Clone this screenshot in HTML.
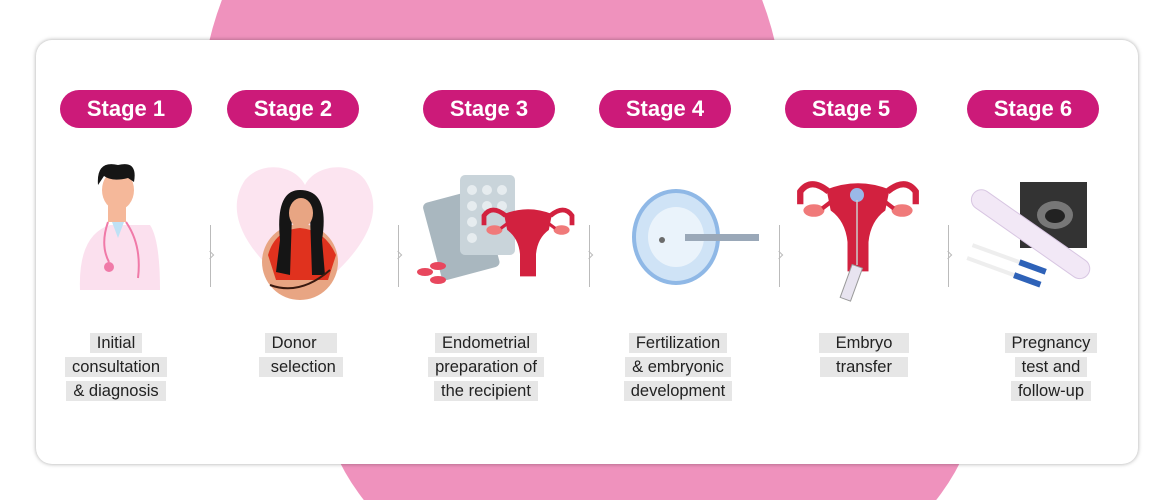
<!DOCTYPE html>
<html style="width:1170px;height:500px;overflow:hidden"><head><meta charset="utf-8"><style>
*{margin:0;padding:0;box-sizing:border-box}
body{width:1170px;height:500px;background:#fff;position:relative;overflow:hidden;font-family:"Liberation Sans",sans-serif}
.card{position:absolute;left:36px;top:40px;width:1102px;height:424px;background:#fff;border-radius:16px;box-shadow:0 0 4px rgba(0,0,0,.35)}
.pill{position:absolute;top:90px;width:132px;height:38px;border-radius:19px;background:#cc1a79;color:#fff;font-weight:bold;font-size:22px;line-height:38px;text-align:center}
.lab{position:absolute;top:331px;width:180px;text-align:center;font-size:16.5px;color:#222;line-height:24px}
.lab span{background:#e6e6e6;padding:1px 7px}
.sep{position:absolute;top:225px;width:1px;height:62px;background:#bbb}
.sep:after{content:"";position:absolute;left:-3px;top:27px;width:5px;height:5px;border-right:1px solid #bbb;border-top:1px solid #bbb;transform:rotate(45deg)}
svg{position:absolute}
</style></head><body>
<svg width="1170" height="500" style="left:0;top:0">
<ellipse cx="492" cy="120" rx="292" ry="316" fill="#ef92bd"/>
<ellipse cx="650" cy="380" rx="330" ry="241" fill="#ef92bd"/>
</svg>
<div class="card"></div>
<div class="pill" style="left:60px">Stage 1</div>
<div class="pill" style="left:227px">Stage 2</div>
<div class="pill" style="left:423px">Stage 3</div>
<div class="pill" style="left:599px">Stage 4</div>
<div class="pill" style="left:785px">Stage 5</div>
<div class="pill" style="left:967px">Stage 6</div>

<div class="sep" style="left:210px"></div>
<div class="sep" style="left:398px"></div>
<div class="sep" style="left:589px"></div>
<div class="sep" style="left:779px"></div>
<div class="sep" style="left:948px"></div>

<svg width="1170" height="320" style="left:0;top:0">
<defs>
<g id="ut">
<path d="M-30,-10 Q0,-22 30,-10 L26,10 Q12,20 10,40 L10,68 L-10,68 L-10,40 Q-12,20 -26,10 Z" fill="#d2213f"/>
<path d="M-28,-8 Q-45,-22 -55,-8 L-55,4 M28,-8 Q45,-22 55,-8 L55,4" stroke="#d2213f" stroke-width="6" fill="none"/>
<ellipse cx="-42" cy="10" rx="10" ry="6" fill="#f07a7a"/><ellipse cx="42" cy="10" rx="10" ry="6" fill="#f07a7a"/>
<path d="M-26,2 L-34,8 M26,2 L34,8" stroke="#d2213f" stroke-width="4"/>
</g>
</defs>
<path d="M80,290 Q78,235 110,225 L150,225 Q160,240 160,290 Z" fill="#fbe0ee"/>
<rect x="108" y="200" width="18" height="22" fill="#f5b89a"/>
<ellipse cx="118" cy="190" rx="16" ry="20" fill="#f5b89a"/>
<path d="M98,185 Q96,160 118,165 Q138,160 134,182 L128,178 Q112,182 104,176 Z" fill="#151515"/>
<path d="M112,222 L118,238 L124,222" fill="#bfe1f5"/>
<circle cx="109" cy="267" r="5" fill="#f07aa8"/>
<path d="M108,222 Q100,245 109,262 M126,222 Q142,245 138,278" stroke="#f07aa8" stroke-width="2" fill="none"/>
<path d="M305,298 C240,250 225,210 245,180 C262,160 295,165 305,185 C315,165 350,160 365,180 C385,210 370,250 305,298 Z" fill="#fce4f0"/>
<circle cx="300" cy="262" r="38" fill="#e8a583"/>
<path d="M268,255 Q275,230 300,228 Q325,230 336,255 L328,280 L276,280 Z" fill="#e0321e"/>
<path d="M280,240 Q275,190 300,190 Q330,190 322,240 L325,275 L312,275 L310,215 L292,215 L290,275 L276,272 Z" fill="#151515"/>
<ellipse cx="301" cy="213" rx="12" ry="15" fill="#e8a583"/>
<path d="M270,285 Q300,296 330,270" stroke="#3a1a10" stroke-width="2" fill="none"/>
<g transform="rotate(-15 460 230)"><rect x="430" y="195" width="60" height="80" rx="5" fill="#a9b7bf"/></g>
<rect x="460" y="175" width="55" height="80" rx="5" fill="#c9d4da"/>
<g fill="#e6ecef"><circle cx="472" cy="190" r="5"/><circle cx="487" cy="190" r="5"/><circle cx="502" cy="190" r="5"/><circle cx="472" cy="206" r="5"/><circle cx="487" cy="206" r="5"/><circle cx="502" cy="206" r="5"/><circle cx="472" cy="222" r="5"/><circle cx="472" cy="238" r="5"/></g>
<ellipse cx="425" cy="272" rx="8" ry="4" fill="#e8475e"/><ellipse cx="438" cy="266" rx="8" ry="4" fill="#e8475e"/><ellipse cx="438" cy="280" rx="8" ry="4" fill="#e8475e"/>
<use href="#ut" transform="translate(528,222) scale(0.8)"/>
<ellipse cx="676" cy="237" rx="42" ry="46" fill="#cfe3f6" stroke="#8fb8e6" stroke-width="4"/>
<ellipse cx="676" cy="237" rx="28" ry="30" fill="#eaf3fb"/>
<rect x="685" y="234" width="74" height="7" fill="#9aa8b8"/>
<circle cx="662" cy="240" r="3" fill="#6b6b6b"/>
<use href="#ut" transform="translate(858,200) scale(1.05)"/>
<circle cx="857" cy="195" r="7" fill="#9ab8e8"/>
<line x1="857" y1="200" x2="857" y2="265" stroke="#ccc" stroke-width="1.5"/>
<g transform="rotate(20 850 285)"><rect x="845" y="265" width="11" height="35" fill="#e8e4f0" stroke="#999"/></g>
<rect x="1020" y="182" width="67" height="66" fill="#333"/>
<ellipse cx="1055" cy="215" rx="18" ry="14" fill="#777"/>
<ellipse cx="1055" cy="216" rx="10" ry="7" fill="#222"/>
<g transform="rotate(35 1030 235)"><rect x="960" y="224" width="140" height="20" rx="10" fill="#f2e8f6" stroke="#d8c6e2"/></g>
<g transform="rotate(20 1005 258)"><rect x="970" y="255" width="75" height="4" fill="#eee"/><rect x="1020" y="254" width="28" height="6" fill="#2e62b8"/></g>
<g transform="rotate(20 1000 270)"><rect x="965" y="268" width="75" height="4" fill="#eee"/><rect x="1015" y="267" width="28" height="6" fill="#2e62b8"/></g>
</svg>

<div class="lab" style="left:26px"><span>Initial</span><br><span>consultation</span><br><span>&amp; diagnosis</span></div>
<div class="lab" style="left:211px"><span>Donor&nbsp;&nbsp;&nbsp;</span><br><span>&nbsp;selection</span></div>
<div class="lab" style="left:396px"><span>Endometrial</span><br><span>preparation of</span><br><span>the recipient</span></div>
<div class="lab" style="left:588px"><span>Fertilization</span><br><span>&amp; embryonic</span><br><span>development</span></div>
<div class="lab" style="left:774px"><span>&nbsp;&nbsp;Embryo&nbsp;&nbsp;</span><br><span>&nbsp;&nbsp;transfer&nbsp;&nbsp;</span></div>
<div class="lab" style="left:961px"><span>Pregnancy</span><br><span>test and</span><br><span>follow-up</span></div>
</body></html>
